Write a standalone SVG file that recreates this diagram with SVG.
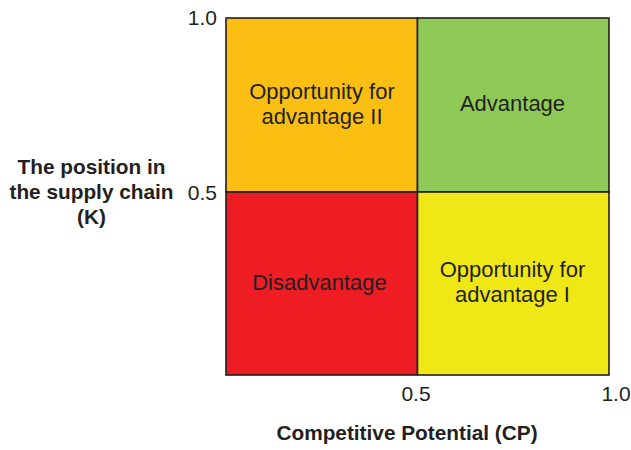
<svg xmlns="http://www.w3.org/2000/svg" width="631" height="450" viewBox="0 0 631 450">
  <style>
    text { font-family: "Liberation Sans", Arial, sans-serif; fill: #231F20; }
    .q { font-size: 22px; text-anchor: middle; }
    .tick { font-size: 21px; }
    .axis { font-size: 20.8px; font-weight: bold; text-anchor: middle; }
    .cell { stroke: #231F20; stroke-width: 1.6; }
  </style>
  <rect width="631" height="450" fill="#FFFFFF"/>

  <!-- quadrants -->
  <g id="opportunity-ii">
    <rect class="cell" x="226" y="18" width="191.5" height="174" fill="#FBBF14"/>
    <text class="q" x="322" y="99">Opportunity for</text>
    <text class="q" x="322" y="124">advantage II</text>
  </g>
  <g id="advantage">
    <rect class="cell" x="417.5" y="18" width="191.5" height="174" fill="#8FC957"/>
    <text class="q" x="512.5" y="111">Advantage</text>
  </g>
  <g id="disadvantage">
    <rect class="cell" x="226" y="192" width="191.5" height="183" fill="#EE1D24"/>
    <text class="q" x="319.5" y="290">Disadvantage</text>
  </g>
  <g id="opportunity-i">
    <rect class="cell" x="417.5" y="192" width="191.5" height="183" fill="#F0E816"/>
    <text class="q" x="512.5" y="277">Opportunity for</text>
    <text class="q" x="512.5" y="302">advantage I</text>
  </g>

  <!-- axis ticks -->
  <g id="ticks">
    <text class="tick" x="217" y="24.5" text-anchor="end">1.0</text>
    <text class="tick" x="217" y="200" text-anchor="end">0.5</text>
    <text class="tick" x="416" y="401" text-anchor="middle">0.5</text>
    <text class="tick" x="616" y="401" text-anchor="middle">1.0</text>
  </g>

  <!-- axis titles -->
  <g id="y-title">
    <text class="axis" x="91.5" y="174">The position in</text>
    <text class="axis" x="91.5" y="199">the supply chain</text>
    <text class="axis" x="91.5" y="223.5">(K)</text>
  </g>
  <g id="x-title">
    <text class="axis" x="407" y="440">Competitive Potential (CP)</text>
  </g>
</svg>
